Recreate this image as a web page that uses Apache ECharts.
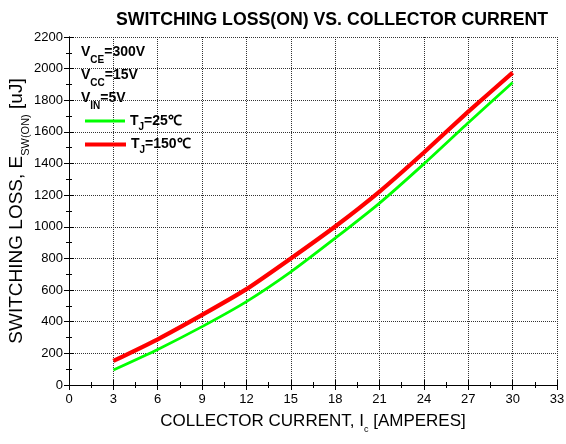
<!DOCTYPE html>
<html>
<head>
<meta charset="utf-8">
<script src="https://cdn.jsdelivr.net/npm/echarts@6/dist/echarts.min.js"></script>
<style>html,body{margin:0;padding:0;background:#fff;}#c{width:566px;height:444px;}</style>
</head>
<body>
<div id="c"></div>
<script>
var currents = [3, 6, 9, 12, 15, 18, 21, 24, 27, 30];
var loss25 = [95, 225, 369, 527, 715, 928, 1150, 1398, 1658, 1912];
var loss150 = [152, 289, 443, 606, 800, 1002, 1223, 1470, 1728, 1975];
var name25 = 'T_J=25℃';
var name150 = 'T_J=150℃';

var FONT = '"Liberation Sans", Arial, sans-serif';
function pairs(xs, ys) { return xs.map(function (x, i) { return [x, ys[i]]; }); }
function plain(v) { return String(v); }

var legRich = {
  a: { fontFamily: FONT, fontSize: 14, fontWeight: 'bold', color: '#000', lineHeight: 22, verticalAlign: 'middle' },
  b: { fontFamily: FONT, fontSize: 10, fontWeight: 'bold', color: '#000', lineHeight: 10, verticalAlign: 'bottom' }
};
var vRich = {
  a: { fontFamily: FONT, fontSize: 14, fontWeight: 'bold', color: '#000', lineHeight: 26, verticalAlign: 'middle' },
  b: { fontFamily: FONT, fontSize: 10, fontWeight: 'bold', color: '#000', lineHeight: 10, verticalAlign: 'bottom' }
};

function legendFmt(n) {
  if (n === name25) return '{a|T}{b|J}{a|=25℃}';
  return '{a|T}{b|J}{a|=150℃}';
}

var axisBase = {
  axisLine: { show: true, lineStyle: { color: '#000', width: 1 } },
  axisTick: { show: true, inside: true, length: 5, lineStyle: { color: '#000' } },
  minorTick: { show: true, splitNumber: 2, length: 3, lineStyle: { color: '#000' } }
};

var chart = echarts.init(document.getElementById('c'), null, { renderer: 'canvas' });
var option = {
  backgroundColor: '#fff',
  animation: false,
  title: {
    text: 'SWITCHING LOSS(ON) VS. COLLECTOR CURRENT',
    left: 327, top: 6, textAlign: 'center',
    textStyle: { fontFamily: FONT, fontSize: 17.7, fontWeight: 'bold', color: '#000' }
  },
  grid: { left: 69, right: 9, top: 37, bottom: 59, containLabel: false, outerBoundsMode: 'none' },
  legend: [
    { data: [name25], left: 80, top: 109, icon: 'rect', itemWidth: 40, itemHeight: 3, itemGap: 5,
      formatter: legendFmt, textStyle: { rich: legRich } },
    { data: [name150], left: 80, top: 132.5, icon: 'rect', itemWidth: 41, itemHeight: 4, itemGap: 5,
      formatter: legendFmt, textStyle: { rich: legRich } }
  ],
  graphic: [
    { type: 'text', left: 81, top: 45, style: { text: '{a|V}{b|CE}{a|=300V}', rich: vRich } },
    { type: 'text', left: 81, top: 68.3, style: { text: '{a|V}{b|CC}{a|=15V}', rich: vRich } },
    { type: 'text', left: 81, top: 91.5, style: { text: '{a|V}{b|IN}{a|=5V}', rich: vRich } }
  ],
  xAxis: [
    Object.assign({
      type: 'value', min: 0, max: 33, interval: 3, position: 'bottom',
      name: '{a|COLLECTOR CURRENT, I}{b|c}{a| [AMPERES]}',
      nameLocation: 'middle', nameGap: 23,
      nameTextStyle: { rich: {
        a: { fontFamily: FONT, fontSize: 17, color: '#000', lineHeight: 26, verticalAlign: 'middle' },
        b: { fontFamily: FONT, fontSize: 9, color: '#000', lineHeight: 9, verticalAlign: 'bottom' }
      } },
      axisLabel: { fontFamily: FONT, fontSize: 13, color: '#000', margin: 8, formatter: plain },
      splitLine: { show: true, lineStyle: { type: 'dotted', color: '#333', width: 1 } }
    }, axisBase),
    Object.assign({
      type: 'value', min: 0, max: 33, interval: 3, position: 'top',
      axisLabel: { show: false }, splitLine: { show: false }
    }, axisBase)
  ],
  yAxis: [
    Object.assign({
      type: 'value', min: 0, max: 2200, interval: 200, position: 'left',
      name: '{a|SWITCHING LOSS, E}{b|SW(ON)}{a| [uJ]}',
      nameLocation: 'middle', nameGap: 38, nameMoveOverlap: false,
      nameTextStyle: { rich: {
        a: { fontFamily: FONT, fontSize: 19, color: '#000', lineHeight: 29, verticalAlign: 'middle' },
        b: { fontFamily: FONT, fontSize: 11, color: '#000', lineHeight: 11, verticalAlign: 'bottom' }
      } },
      axisLabel: { fontFamily: FONT, fontSize: 13, color: '#000', margin: 6, formatter: plain },
      splitLine: { show: true, lineStyle: { type: 'dotted', color: '#333', width: 1 } }
    }, axisBase),
    Object.assign({
      type: 'value', min: 0, max: 2200, interval: 200, position: 'right',
      axisLabel: { show: false }, splitLine: { show: false }
    }, axisBase)
  ],
  series: [
    { name: name25, type: 'line', xAxisIndex: 0, yAxisIndex: 0, data: pairs(currents, loss25),
      smooth: 0.2, showSymbol: false, symbol: 'none', color: '#00ff00',
      lineStyle: { color: '#00ff00', width: 2.8 } },
    { name: name150, type: 'line', xAxisIndex: 0, yAxisIndex: 0, data: pairs(currents, loss150),
      smooth: 0.2, showSymbol: false, symbol: 'none', color: '#ff0000',
      lineStyle: { color: '#ff0000', width: 4.2 } }
  ]
};
chart.setOption(option);
</script>
</body>
</html>
